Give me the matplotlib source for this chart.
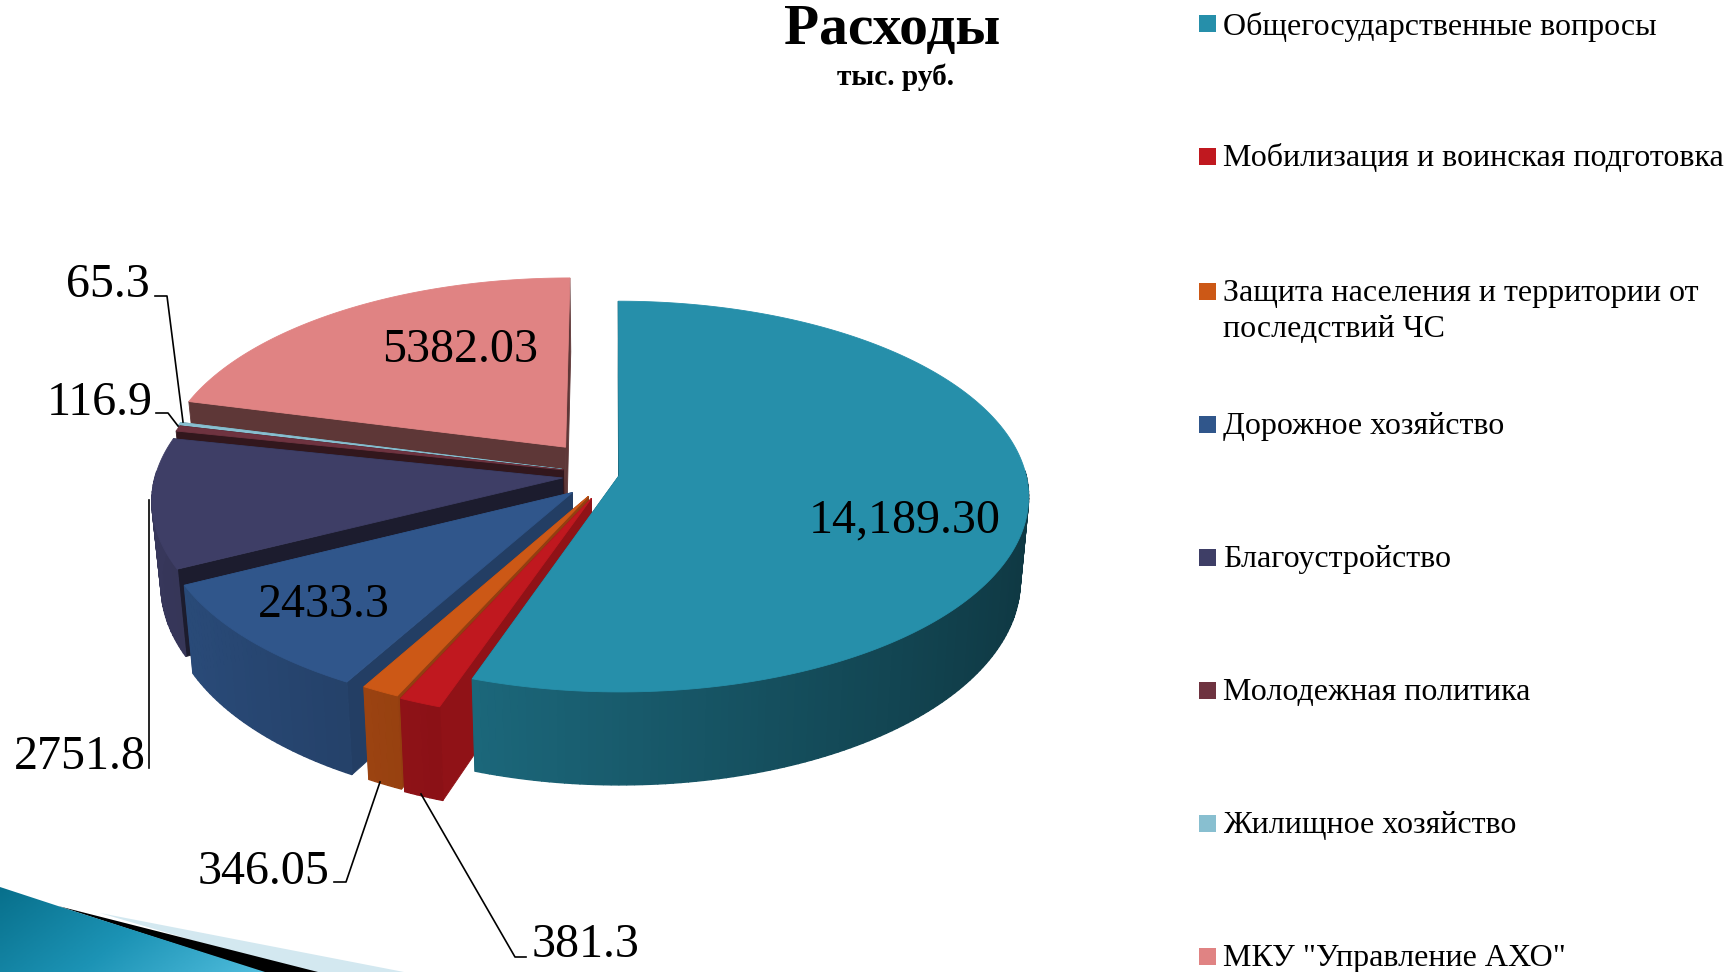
import matplotlib
matplotlib.use("Agg")
import matplotlib.pyplot as plt
from matplotlib.patches import Polygon, Rectangle
import numpy as np

plt.rcParams['font.family'] = ['Liberation Serif', 'DejaVu Serif']

# chart data
categories = ['Общегосударственные вопросы', 'Мобилизация и воинская подготовка',
              'Защита населения и территории от\nпоследствий ЧС', 'Дорожное хозяйство',
              'Благоустройство', 'Молодежная политика', 'Жилищное хозяйство',
              'МКУ "Управление АХО"']
values = [14189.30, 381.3, 346.05, 2433.3, 2751.8, 116.9, 65.3, 5382.03]
value_labels = ['14,189.30', '381.3', '346.05', '2433.3', '2751.8', '116.9', '65.3', '5382.03']

# styles
colors = ['#268faa', '#c0181f', '#cc5816', '#30568b', '#3e3e66', '#6e3340', '#88bfd0', '#e08383']
explode = [0.02, 0.128, 0.122, 0.13, 0.12, 0.12, 0.125, 0.185]
face_shade = [0.6, 0.75, 0.72, 0.72, 0.45, 0.45, 0.6, 0.42]
draw_order = [7, 6, 5, 4, 3, 2, 1, 0]

# pie geometry in pixels
CX, CY = 611, 475
A, B = 407, 193
K = 0.107
DEPTH = 83

# label placement: x, y, horizontal alignment
label_pos = [(905, 520, 'center'), (532, 945, 'left'), (329, 872, 'right'), (324, 605, 'center'),
             (146, 757, 'right'), (153, 403, 'right'), (150, 285, 'right'), (460, 350, 'center')]
leaders = [None,
           [(526, 957), (515, 957), (421, 794)],
           [(334, 882), (346, 882), (380, 782)],
           None,
           [(149, 768), (149, 500)],
           [(156, 413), (168, 413), (178, 426)],
           [(155, 296), (167, 296), (183, 422)],
           None]
legend_y = [24, 157, 291, 424, 557, 690, 823, 956]


def project(X, Y, z=0.0):
    """ground coordinates (unit circle) and depth z (0 top, 1 bottom) to pixels"""
    f = 1 / (1 + K * Y)
    return CX + A * X * f * (1 - 0.02 * z), CY - B * Y * f + DEPTH * z * f


def shade(color, s):
    rgb = np.array(matplotlib.colors.to_rgb(color))
    return tuple(np.clip(rgb * s, 0, 1))


def poly(ax, xs, ys, color, lw=0.6):
    ax.add_patch(Polygon(np.column_stack([xs, ys]), closed=True, facecolor=color,
                         edgecolor=color, linewidth=lw))


def draw_slice(ax, start, end, color, e, face_s):
    mid = np.radians((start + end) / 2)
    ox, oy = e * np.sin(mid), e * np.cos(mid)
    theta = np.radians(np.linspace(start, end, max(2, int(end - start) + 2)))
    X = ox + np.sin(theta)
    Y = oy + np.cos(theta)
    # radial faces
    for i in [0, -1]:
        gx = np.array([ox, X[i], X[i], ox])
        gy = np.array([oy, Y[i], Y[i], oy])
        z = np.array([0, 0, 1, 1])
        sx, sy = project(gx, gy, z)
        poly(ax, sx, sy, shade(color, face_s))
    # outer wall, split up for the gradient, only the part facing the viewer
    for i in range(len(theta) - 1):
        if np.cos(theta[i]) > 0.03:
            continue
        gx = np.array([X[i], X[i + 1], X[i + 1], X[i]])
        gy = np.array([Y[i], Y[i + 1], Y[i + 1], Y[i]])
        z = np.array([0, 0, 1, 1])
        sx, sy = project(gx, gy, z)
        s = 0.64 - 0.25 * np.sin(theta[i])
        poly(ax, sx, sy, shade(color, s), lw=1.0)
    # top
    sx, sy = project(np.r_[ox, X], np.r_[oy, Y])
    poly(ax, sx, sy, color)


def draw_corner(ax):
    """slide decoration at the bottom left"""
    ax.add_patch(Polygon([(100, 913), (404, 972), (300, 972)], facecolor='#d3e8f0', edgecolor='none'))
    ax.add_patch(Polygon([(58, 906), (318, 972), (262, 972)], facecolor='black', edgecolor='none'))
    clip = Polygon([(0, 887), (61, 907), (265, 972), (0, 972)], facecolor='none', edgecolor='none')
    ax.add_patch(clip)
    xx, yy = np.meshgrid(np.linspace(0, 1, 80), np.linspace(0, 1, 30))
    grad = (xx + 0.4 * yy) / 1.4
    cmap = matplotlib.colors.LinearSegmentedColormap.from_list('corner', ['#08708c', '#1c93b5', '#4fbcdc'])
    im = ax.imshow(grad, extent=(0, 265, 972, 887), cmap=cmap, aspect='auto', zorder=1)
    im.set_clip_path(clip)
    ax.set_xlim(0, 1729)
    ax.set_ylim(972, 0)


fig = plt.figure(figsize=(17.29, 9.72), dpi=100)
ax = fig.add_axes([0, 0, 1, 1])
ax.set_xlim(0, 1729)
ax.set_ylim(972, 0)
ax.axis('off')

draw_corner(ax)

# slices go clockwise from twelve o'clock
angles = np.cumsum([0] + values) / sum(values) * 360
for i in draw_order:
    draw_slice(ax, angles[i], angles[i + 1], colors[i], explode[i], face_shade[i])

for i, txt in enumerate(value_labels):
    x, y, ha = label_pos[i]
    ax.text(x, y, txt, fontsize=34.6, ha=ha, va='center', color='black', zorder=5)
    if leaders[i]:
        lx, ly = zip(*leaders[i])
        ax.plot(lx, ly, color='black', lw=1.2, zorder=5)

ax.text(892, 30, 'Расходы', fontsize=41.4, fontweight='bold', ha='center', va='center', zorder=5)
ax.text(896, 77, 'тыс. руб.', fontsize=21.2, fontweight='bold', ha='center', va='center', zorder=5)

for i, name in enumerate(categories):
    ax.add_patch(Rectangle((1199.5, legend_y[i] - 8.5), 17, 17, facecolor=colors[i], edgecolor='none', zorder=5))
    ax.text(1223.5, legend_y[i] - 12.5, name, fontsize=23.05, ha='left', va='top', linespacing=1.32, zorder=5)

fig.savefig('out.png', dpi=100)
